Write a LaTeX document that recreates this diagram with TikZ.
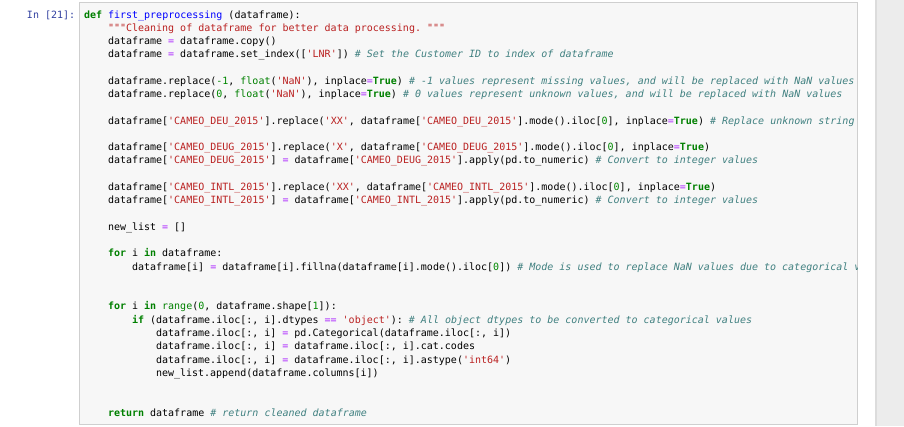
\documentclass[tikz,border=0pt]{standalone}
\usepackage{fontspec}
\usepackage{tikz}
\newfontfamily\codefont{DejaVu Sans Mono}

\definecolor{promptblue}{HTML}{303F9F}
\definecolor{kwgreen}{HTML}{008000}
\definecolor{numgreen}{HTML}{008800}
\definecolor{strred}{HTML}{BA2121}
\definecolor{comteal}{HTML}{408080}
\definecolor{oppurple}{HTML}{AA22FF}
\definecolor{fnblue}{HTML}{0000FF}
\definecolor{cellfill}{HTML}{F7F7F7}
\definecolor{cellborder}{HTML}{CFCFCF}
\definecolor{stripgrey}{HTML}{ECECEC}
\definecolor{stripedge}{HTML}{DCDCDC}

% syntax colours of the cell
\newcommand{\pykw}[1]{{\bfseries\color{kwgreen}#1}}
\newcommand{\pybi}[1]{{\color{kwgreen}#1}}
\newcommand{\pynum}[1]{{\color{numgreen}#1}}
\newcommand{\pystr}[1]{{\color{strred}#1}}
\newcommand{\pycom}[1]{{\itshape\color{comteal}#1}}
\newcommand{\pyop}[1]{{\color{oppurple}#1}}
\newcommand{\pyfn}[1]{{\color{fnblue}#1}}

\begin{document}
\begin{tikzpicture}[x=1pt,y=1pt,font=\codefont\fontsize{10}{12}\selectfont\frenchspacing,
    code/.style={anchor=base west,inner sep=0pt,outer sep=0pt}]

    \useasboundingbox (0,0) rectangle (904,-426);

    % Notebook cell and scroll strip
    \fill[stripgrey] (875,0) rectangle (904,-426);
    \draw[stripedge,line width=1.5pt] (875.75,0) -- (875.75,-426);
    \path[draw=cellborder,fill=cellfill] (79.5,-2.5) rectangle (857.5,-424.5);

    % Prompt
    \node[code,text=promptblue] (prompt) at (27,-18) {In [21]:};

    \begin{scope}
    \clip (80,-3) rectangle (857,-424);

    % Function head
    \node[code] (l0) at (84,-18) {\pykw{def} \pyfn{first\_preprocessing} (dataframe):};
    \node[code] (l1) at (108,-31.27) {\pystr{"""Cleaning of dataframe for better data processing. """}};
    \node[code] (l2) at (108,-44.54) {dataframe \pyop{=} dataframe.copy()};
    \node[code] (l3) at (108,-57.81) {dataframe \pyop{=} dataframe.set\_index([\pystr{'LNR'}]) \pycom{\# Set the Customer ID to index of dataframe}};

    % Missing values
    \node[code] (l5) at (108,-84.35) {dataframe.replace(\pynum{-1}, \pybi{float}(\pystr{'NaN'}), inplace\pyop{=}\pykw{True}) \pycom{\# -1 values represent missing values, and will be replaced with NaN values}};
    \node[code] (l6) at (108,-97.62) {dataframe.replace(\pynum{0}, \pybi{float}(\pystr{'NaN'}), inplace\pyop{=}\pykw{True}) \pycom{\# 0 values represent unknown values, and will be replaced with NaN values}};

    % CAMEO columns
    \node[code] (l8) at (108,-124.16) {dataframe[\pystr{'CAMEO\_DEU\_2015'}].replace(\pystr{'XX'}, dataframe[\pystr{'CAMEO\_DEU\_2015'}].mode().iloc[\pynum{0}], inplace\pyop{=}\pykw{True}) \pycom{\# Replace unknown string}};
    \node[code] (l10) at (108,-150.7) {dataframe[\pystr{'CAMEO\_DEUG\_2015'}].replace(\pystr{'X'}, dataframe[\pystr{'CAMEO\_DEUG\_2015'}].mode().iloc[\pynum{0}], inplace\pyop{=}\pykw{True})};
    \node[code] (l11) at (108,-163.97) {dataframe[\pystr{'CAMEO\_DEUG\_2015'}] \pyop{=} dataframe[\pystr{'CAMEO\_DEUG\_2015'}].apply(pd.to\_numeric) \pycom{\# Convert to integer values}};
    \node[code] (l13) at (108,-190.51) {dataframe[\pystr{'CAMEO\_INTL\_2015'}].replace(\pystr{'XX'}, dataframe[\pystr{'CAMEO\_INTL\_2015'}].mode().iloc[\pynum{0}], inplace\pyop{=}\pykw{True})};
    \node[code] (l14) at (108,-203.78) {dataframe[\pystr{'CAMEO\_INTL\_2015'}] \pyop{=} dataframe[\pystr{'CAMEO\_INTL\_2015'}].apply(pd.to\_numeric) \pycom{\# Convert to integer values}};

    % Loops
    \node[code] (l16) at (108,-230.32) {new\_list \pyop{=} []};
    \node[code] (l18) at (108,-256.86) {\pykw{for} i \pykw{in} dataframe:};
    \node[code] (l19) at (132,-270.13) {dataframe[i] \pyop{=} dataframe[i].fillna(dataframe[i].mode().iloc[\pynum{0}]) \pycom{\# Mode is used to replace NaN values due to categorical v}};
    \node[code] (l22) at (108,-309.94) {\pykw{for} i \pykw{in} \pybi{range}(\pynum{0}, dataframe.shape[\pynum{1}]):};
    \node[code] (l23) at (132,-323.21) {\pykw{if} (dataframe.iloc[:, i].dtypes \pyop{==} \pystr{'object'}): \pycom{\# All object dtypes to be converted to categorical values}};
    \node[code] (l24) at (156,-336.48) {dataframe.iloc[:, i] \pyop{=} pd.Categorical(dataframe.iloc[:, i])};
    \node[code] (l25) at (156,-349.75) {dataframe.iloc[:, i] \pyop{=} dataframe.iloc[:, i].cat.codes};
    \node[code] (l26) at (156,-363.02) {dataframe.iloc[:, i] \pyop{=} dataframe.iloc[:, i].astype(\pystr{'int64'})};
    \node[code] (l27) at (156,-376.29) {new\_list.append(dataframe.columns[i])};

    % Result
    \node[code] (l30) at (108,-416.1) {\pykw{return} dataframe \pycom{\# return cleaned dataframe}};
    \end{scope}

\end{tikzpicture}
\end{document}
